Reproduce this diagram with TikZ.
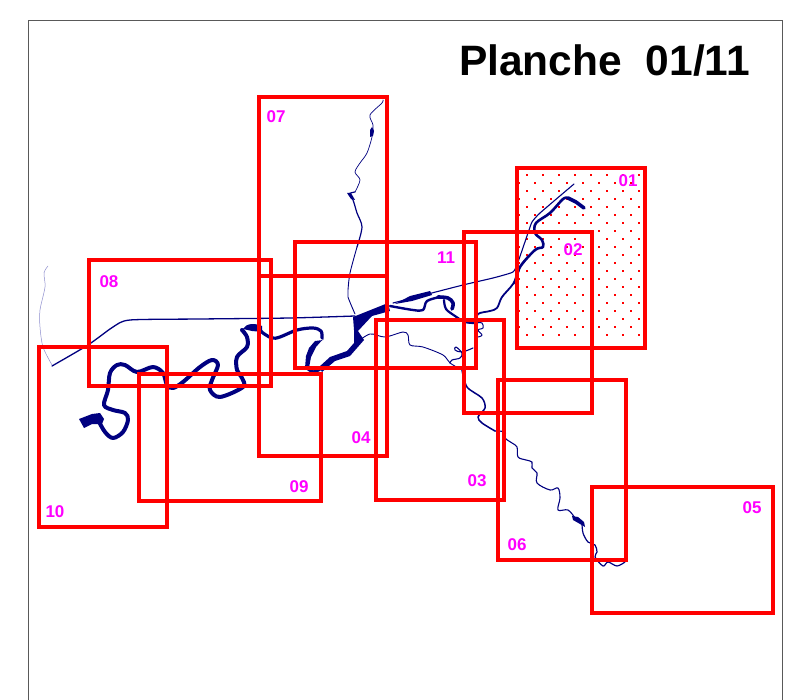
\documentclass[tikz,border=0pt]{standalone}
\usepackage{fontspec}
\setmainfont{Liberation Sans}
\definecolor{riverblue}{RGB}{0,0,128}
\definecolor{faintblue}{RGB}{140,140,205}
\definecolor{labelpink}{RGB}{255,0,255}
\tikzset{
  x=1pt,y=-1pt,
  frameline/.style={draw=black!65,line width=.9pt},
  river/.style={draw=riverblue,line join=round,line cap=round,line width=#1},
  river/.default=2pt,
  tag/.style={text=labelpink,font=\bfseries\fontsize{17}{17}\selectfont,inner sep=0pt},
  redbox/.style={draw=red,line width=3.5pt,line join=miter}
}
\begin{document}
\begin{tikzpicture}
\useasboundingbox (0,0) rectangle (789,700);
\fill[white] (0,0) rectangle (789,700);
\draw[frameline] (28,700) -- (28,20.5) -- (782.5,20.5) -- (782.5,700);
% dots
\foreach \r in {0,...,20}{
  \pgfmathsetmacro{\yy}{174.7+8*\r}
  \pgfmathsetmacro{\xs}{isodd(\r)?518.7:526.7}
  \foreach \c in {0,...,7}{
    \pgfmathsetmacro{\xx}{\xs+16*\c}
    \ifdim\xx pt<644pt \ifdim\yy pt<347pt
      \fill[red] (\xx-.9,\yy-.9) rectangle (\xx+.9,\yy+.9);
    \fi\fi
  }
}
% faint west stream
\draw[faintblue,line width=.5pt] plot[smooth,tension=.5] coordinates {(48,266) (44,273) (45,287) (40,310) (40,327) (43,347) (52,365)};
% canal
\draw[river=1.3pt] plot[smooth,tension=.4] coordinates {(52,366) (88,345) (113,327) (130,320) (200,319) (290,318) (355,316)};
\draw[river=1.1pt] plot[smooth,tension=.3] coordinates {(393,303) (463,285) (493,278) (513,272) (518,262) (528,233) (532,222) (540,213) (574,184)};
\fill[riverblue] (395,304) -- (410,296) -- (430,291) -- (432,295) -- (412,301) -- cycle;
% main river, west part
\draw[river=4pt] plot[smooth,tension=.55] coordinates {(98,420) (105,432) (113,438) (123,432) (128,420) (125,413) (113,410) (104,405) (108,390) (110,373) (117,365) (125,365) (137,372) (153,367) (163,373) (167,385) (173,388) (183,382) (200,367) (212,360) (218,365) (212,380) (210,390) (220,397) (243,387) (242,378) (237,370) (237,357) (247,347) (247,337) (242,330)};
\fill[riverblue] (79,419) -- (92,414) -- (100,413) -- (104,419) -- (102,424) -- (92,424) -- (84,428) -- cycle;
\fill[riverblue] (243,329) .. controls (246,323) and (255,323) .. (262,326) -- (262,332) -- (252,331) -- cycle;
\draw[river=3.2pt] plot[smooth,tension=.55] coordinates {(258,328) (263,333) (272,338) (280,337) (297,330) (313,328) (321,331) (322,338)};
\fill[riverblue] (323,340) -- (315,341) -- (309,348) -- (306,356) -- (305,368) -- (309,368) -- (311,357) -- (316,347) -- (324,338) -- cycle;
\draw[river=3.2pt] plot[smooth,tension=.5] coordinates {(306,367) (313,372) (320,369)};
\fill[riverblue] (319,367) -- (330,357) -- (347,351) -- (354,343) -- (354,330) -- (353,317) -- (388,303) -- (390,311) -- (372,316) -- (358,331) -- (364,340) -- (350,356) -- (335,361) -- (322,372) -- cycle;
% main river, east part
\draw[river=2.4pt] plot[smooth,tension=.55] coordinates {(390,306) (413,310) (423,310) (427,301) (440,297)};
\draw[river=3.6pt] plot[smooth,tension=.6] coordinates {(438,297) (448,298) (453,303) (452,309)};
\draw[river=2.2pt] plot[smooth,tension=.55] coordinates {(444,300) (446,309) (455,316) (465,322) (476,323)};
\draw[river=1.8pt] plot[smooth,tension=.55] coordinates {(476,323) (478,314) (490,311) (497,308) (502,297) (513,284) (519,270)};
\draw[river=2.6pt] plot[smooth,tension=.55] coordinates {(515,283) (520,267) (535,250) (543,247) (542,240) (535,233) (536,223) (550,213) (563,199) (568,198)};
\draw[river=3.6pt] (568,198) -- (576,202) -- (584,208);
\draw[river=1pt] plot[smooth,tension=.6] coordinates {(476,323) (482,323) (483,328) (478,330) (482,335) (478,337)};
% lower tributary
\draw[river=.9pt] plot[smooth,tension=.5] coordinates {(356,343) (370,334) (385,337) (403,332) (408,335) (410,345) (423,347) (443,355) (450,363) (462,370)};
\draw[river=1.1pt] plot[smooth,tension=.6] coordinates {(473,348) (462,352) (455,350) (456,347) (462,353) (460,358) (452,360) (450,363)};
\draw[river=1.5pt] plot[smooth,tension=.5] coordinates {(462,370) (467,387) (482,398) (485,408) (478,417) (482,423) (495,431)};
\draw[river=1.1pt] plot[smooth,tension=.55] coordinates {(495,431) (505,432) (505,438) (512,443) (517,447) (518,457) (526,460) (532,462) (532,468) (537,473) (537,483) (550,490) (558,488) (560,498) (558,510) (568,510) (575,518)};
\fill[riverblue] (572,516) -- (578,517) -- (584,522) -- (585,527) -- (580,524) -- (573,520) -- cycle;
\draw[river=1.2pt] plot[smooth,tension=.55] coordinates {(582,523) (583,533) (588,542) (595,545) (597,552) (595,557) (603,566) (608,562) (617,566) (625,562)};
% north tributary
\draw[river=.7pt] plot[smooth,tension=.5] coordinates {(383,100) (382,103) (370,115) (373,125) (372,137) (367,153) (360,163) (355,172) (360,180) (355,192)};
\fill[riverblue] (370,130) -- (372,127) -- (374,131) -- (373,136) -- (370,137) -- cycle;
\draw[river=1.2pt] plot[smooth,tension=.5] coordinates {(355,192) (349,194) (353,200) (357,213) (362,227) (357,247)};
\draw[river=.9pt] plot[smooth,tension=.5] coordinates {(357,247) (350,273) (348,290) (348,297) (355,314)};
\fill[riverblue] (347,193) -- (351,193) -- (355,200) -- (351,199) -- cycle;
% sheets
\foreach \xa/\ya/\xb/\yb in {517/168/645/348, 464/232/592/413, 376/320/504/500, 259/276/387/456, 592/487/773/613, 498/380/626/560, 259/97/387/276, 89/260/271/386, 139/374/321/501, 39/347/167/527, 295/242/476/368}
  \draw[redbox] (\xa,\ya) rectangle (\xb,\yb);
% labels
\node[tag] (l01) at (628,181) {01};
\node[tag] (l02) at (573,250) {02};
\node[tag] (l03) at (477,481) {03};
\node[tag] (l04) at (361,438) {04};
\node[tag] (l05) at (752,508) {05};
\node[tag] (l06) at (517,545) {06};
\node[tag] (l07) at (276,117) {07};
\node[tag] (l08) at (109,282) {08};
\node[tag] (l09) at (299,487) {09};
\node[tag] (l10) at (55,512) {10};
\node[tag] (l11) at (446,258) {11};
\node[inner sep=0pt,font=\bfseries\fontsize{42.5}{42.5}\selectfont] (title) at (604.5,61) {Planche\ \ 01/11};
\end{tikzpicture}
\end{document}
